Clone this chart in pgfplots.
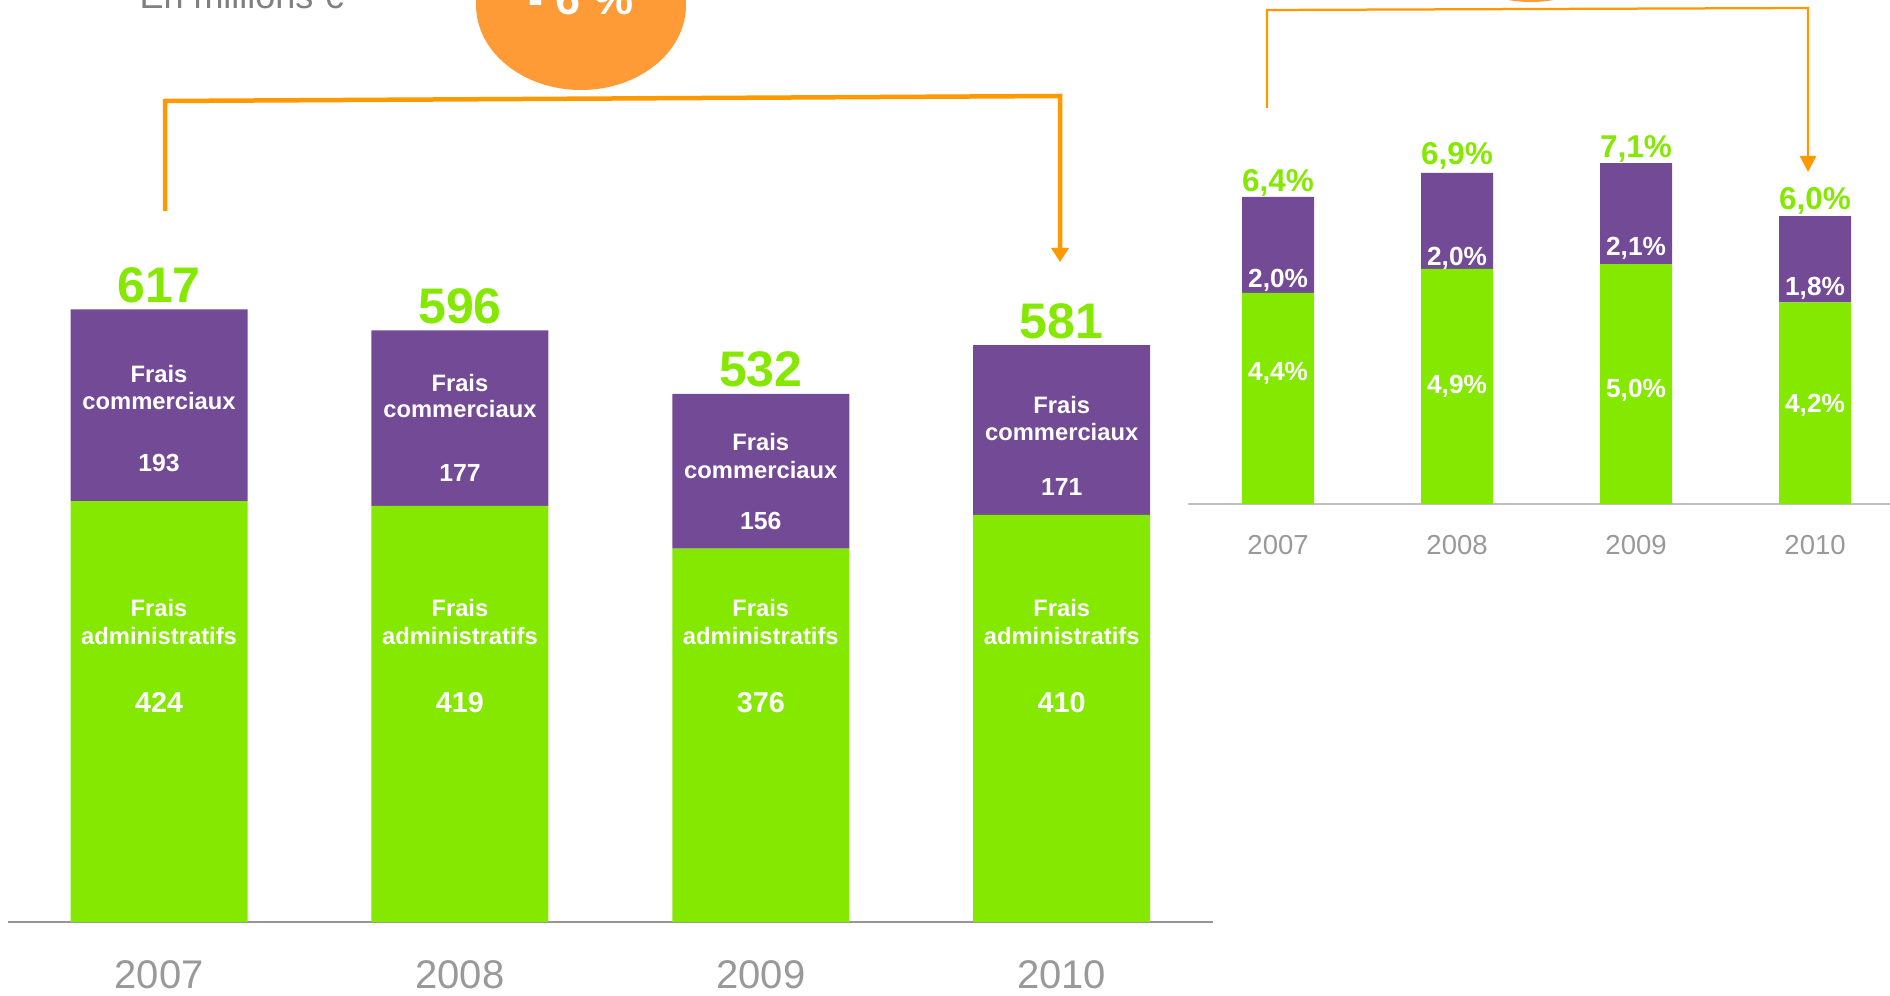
\documentclass[border=0pt]{standalone}
\usepackage{pgfplots}
\pgfplotsset{compat=1.18}
\usepackage{fontspec}
\setmainfont{Liberation Sans}
\usetikzlibrary{arrows.meta}
\definecolor{cgreen}{RGB}{132,232,0}
\definecolor{cpurple}{RGB}{115,74,150}
\definecolor{corange}{RGB}{255,153,0}
\definecolor{cbubble}{RGB}{255,155,55}
\definecolor{cyear}{RGB}{153,153,153}
\definecolor{caxisL}{RGB}{150,150,150}
\definecolor{caxisR}{RGB}{192,192,192}
\definecolor{cunit}{RGB}{128,128,128}
\tikzset{
  ltot/.style={anchor=base, text=cgreen, inner sep=0pt, font=\bfseries\fontsize{20}{24}\selectfont},
  lin/.style={anchor=base, text=white, inner sep=0pt, font=\bfseries\fontsize{9.5}{11}\selectfont},
  lnp/.style={anchor=base, text=white, inner sep=0pt, font=\bfseries\fontsize{9.9}{12}\selectfont},
  lng/.style={anchor=base, text=white, inner sep=0pt, font=\bfseries\fontsize{11.5}{14}\selectfont},
  rtot/.style={anchor=base, text=cgreen, inner sep=0pt, font=\bfseries\fontsize{12.6}{15}\selectfont},
  rin/.style={anchor=base, text=white, inner sep=0pt, font=\bfseries\fontsize{10.5}{12.5}\selectfont},
}
\begin{document}
\begin{tikzpicture}[x=0.4pt,y=0.4pt]
\path[use as bounding box] (0,0) rectangle (1890,995);
\clip (0,0) rectangle (1890,995);

% ---------- left chart (millions EUR)
\begin{axis}[
  at={(3.2pt,29.2pt)}, anchor=south west,
  scale only axis, width=482pt, height=278pt,
  xmin=-0.502, xmax=3.503, ymin=0, ymax=700,
  ybar stacked, bar width=70.8pt,
  axis x line*=bottom, axis y line=none,
  x axis line style={draw=caxisL, line width=0.8pt},
  xtick={0,1,2,3}, xticklabels={2007,2008,2009,2010},
  major tick length=0pt, ytick=\empty,
  xticklabel style={anchor=base, yshift=-26.6pt, font=\fontsize{16}{19}\selectfont, text=cyear},
  clip=false,
]
\addplot[fill=cgreen, draw=none] coordinates {(0,424) (1,419) (2,376) (3,410)};
\addplot[fill=cpurple, draw=none] coordinates {(0,193) (1,177) (2,156) (3,171)};
% totals
\node[ltot, yshift=2.8pt] at (axis cs:0,617) {617};
\node[ltot, yshift=2.8pt] at (axis cs:1,596) {596};
\node[ltot, yshift=2.8pt] at (axis cs:2,532) {532};
\node[ltot, yshift=2.8pt] at (axis cs:3,581) {581};
% label anchors: commercial (a,b,c) and administrative (d,e,f)
\coordinate (L0a) at (axis cs:0,543.8);
\coordinate (L0b) at (axis cs:0,516.6);
\coordinate (L0c) at (axis cs:0,454.2);
\coordinate (L1a) at (axis cs:1,534.7);
\coordinate (L1b) at (axis cs:1,508.6);
\coordinate (L1c) at (axis cs:1,444.1);
\coordinate (L2a) at (axis cs:2,475.3);
\coordinate (L2b) at (axis cs:2,447.1);
\coordinate (L2c) at (axis cs:2,395.8);
\coordinate (L3a) at (axis cs:3,512.6);
\coordinate (L3b) at (axis cs:3,485.4);
\coordinate (L3c) at (axis cs:3,430.0);
\coordinate (L0d) at (axis cs:0,307.2);
\coordinate (L0e) at (axis cs:0,279.0);
\coordinate (L0f) at (axis cs:0,211.5);
\coordinate (L1d) at (axis cs:1,307.2);
\coordinate (L1e) at (axis cs:1,279.0);
\coordinate (L1f) at (axis cs:1,211.5);
\coordinate (L2d) at (axis cs:2,307.2);
\coordinate (L2e) at (axis cs:2,279.0);
\coordinate (L2f) at (axis cs:2,211.5);
\coordinate (L3d) at (axis cs:3,307.2);
\coordinate (L3e) at (axis cs:3,279.0);
\coordinate (L3f) at (axis cs:3,211.5);
\end{axis}
\node[lin] at (L0a) {Frais};
\node[lin] at (L0b) {commerciaux};
\node[lnp] at (L0c) {193};
\node[lin] at (L1a) {Frais};
\node[lin] at (L1b) {commerciaux};
\node[lnp] at (L1c) {177};
\node[lin] at (L2a) {Frais};
\node[lin] at (L2b) {commerciaux};
\node[lnp] at (L2c) {156};
\node[lin] at (L3a) {Frais};
\node[lin] at (L3b) {commerciaux};
\node[lnp] at (L3c) {171};
\node[lin] at (L0d) {Frais};
\node[lin] at (L0e) {administratifs};
\node[lng] at (L0f) {424};
\node[lin] at (L1d) {Frais};
\node[lin] at (L1e) {administratifs};
\node[lng] at (L1f) {419};
\node[lin] at (L2d) {Frais};
\node[lin] at (L2e) {administratifs};
\node[lng] at (L2f) {376};
\node[lin] at (L3d) {Frais};
\node[lin] at (L3e) {administratifs};
\node[lng] at (L3f) {410};

% ---------- right chart (% of sales)
\begin{axis}[
  at={(475.2pt,196.4pt)}, anchor=south west,
  scale only axis, width=280.8pt, height=153.6pt,
  xmin=-0.503, xmax=3.419, ymin=0, ymax=8,
  ybar stacked, bar width=28.8pt,
  axis x line*=bottom, axis y line=none,
  x axis line style={draw=caxisR, line width=0.8pt},
  xtick={0,1,2,3}, xticklabels={2007,2008,2009,2010},
  major tick length=0pt, ytick=\empty,
  xticklabel style={anchor=base, yshift=-20.4pt, font=\fontsize{11}{13}\selectfont, text=cyear},
  clip=false,
]
\addplot[fill=cgreen, draw=none] coordinates {(0,4.4) (1,4.9) (2,5.0) (3,4.2)};
\addplot[fill=cpurple, draw=none] coordinates {(0,2.0) (1,2.0) (2,2.1) (3,1.8)};
\node[rtot, yshift=2.0pt] at (axis cs:0,6.4) {6,4\%};
\node[rtot, yshift=3.2pt] at (axis cs:1,6.9) {6,9\%};
\node[rtot, yshift=2.4pt] at (axis cs:2,7.1) {7,1\%};
\node[rtot, yshift=2.8pt] at (axis cs:3,6.0) {6,0\%};
\coordinate (R0a) at (axis cs:0,4.52);
\coordinate (R0b) at (axis cs:0,2.58);
\coordinate (R1a) at (axis cs:1,4.96);
\coordinate (R1b) at (axis cs:1,2.31);
\coordinate (R2a) at (axis cs:2,5.17);
\coordinate (R2b) at (axis cs:2,2.21);
\coordinate (R3a) at (axis cs:3,4.35);
\coordinate (R3b) at (axis cs:3,1.90);
\end{axis}
\node[rin] at (R0a) {2,0\%};
\node[rin] at (R0b) {4,4\%};
\node[rin] at (R1a) {2,0\%};
\node[rin] at (R1b) {4,9\%};
\node[rin] at (R2a) {2,1\%};
\node[rin] at (R2b) {5,0\%};
\node[rin] at (R3a) {1,8\%};
\node[rin] at (R3b) {4,2\%};

% ---------- annotations
\node[anchor=base west, inner sep=0pt, text=cunit, font=\fontsize{14.4}{17}\selectfont] at (139,986) {En millions €};
\fill[cbubble] (581,990) ellipse [x radius=42pt, y radius=34pt];
\node[anchor=base, inner sep=0pt, text=white, font=\bfseries\fontsize{18}{21}\selectfont] at (581,980) {- 6 \%};
\fill[cbubble] (1531,1078) ellipse [x radius=42pt, y radius=34pt];
\draw[corange, line width=1.8pt, line join=miter, -{Triangle[length=5.6pt,width=6.8pt]}]
  (165,784) -- (165,894) -- (1060,899) -- (1060,733);
\draw[corange, line width=0.9pt, line join=miter, -{Triangle[length=6.4pt,width=6.4pt]}]
  (1267,887) -- (1267,985) -- (1808,987) -- (1808,823);
\end{tikzpicture}
\end{document}
